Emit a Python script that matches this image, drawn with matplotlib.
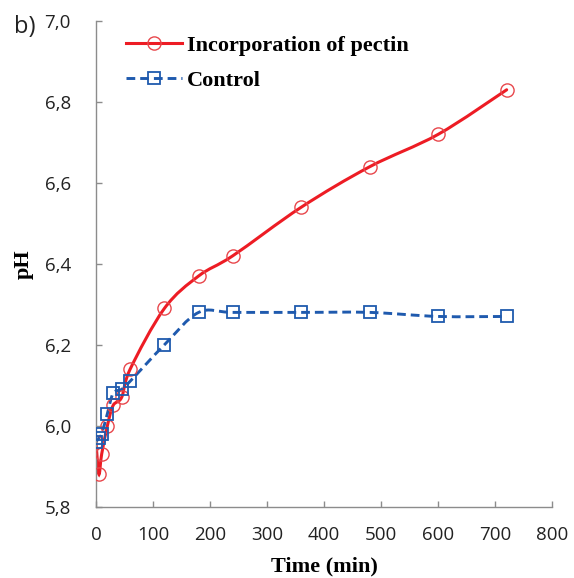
import matplotlib
matplotlib.use("Agg")
import matplotlib.pyplot as plt
from matplotlib.path import Path
from matplotlib.patches import PathPatch
from matplotlib.lines import Line2D
import numpy as np

# Data
time_pectin = [0, 5, 10, 20, 30, 45, 60, 120, 180, 240, 360, 480, 600, 720]
ph_pectin = [5.96, 5.88, 5.93, 6.00, 6.05, 6.07, 6.14, 6.29, 6.37, 6.42, 6.54, 6.64, 6.72, 6.83]
time_control = [0, 5, 10, 20, 30, 45, 60, 120, 180, 240, 360, 480, 600, 720]
ph_control = [5.96, 5.97, 5.98, 6.03, 6.08, 6.09, 6.11, 6.20, 6.28, 6.28, 6.28, 6.28, 6.27, 6.27]
label_pectin = "Incorporation of pectin"
label_control = "Control"
x_ticks = [0, 100, 200, 300, 400, 500, 600, 700, 800]
y_ticks = [5.8, 6.0, 6.2, 6.4, 6.6, 6.8, 7.0]

RED = "#ED1C24"
RED_M = "#E8474C"
BLUE = "#1F5AAE"


def smooth_path(xs, ys):
    pts = np.column_stack([xs, ys]).astype(float)
    n = len(pts)
    verts = [pts[0]]
    codes = [Path.MOVETO]
    for i in range(n - 1):
        p0 = pts[i - 1] if i > 0 else pts[i]
        p1 = pts[i]
        p2 = pts[i + 1]
        p3 = pts[i + 2] if i + 2 < n else pts[i + 1]
        c1 = p1 + (p2 - p0) / 6.0
        c2 = p2 - (p3 - p1) / 6.0
        verts += [c1, c2, p2]
        codes += [Path.CURVE4] * 3
    return Path(verts, codes)


fig = plt.figure(figsize=(5.74, 5.78), dpi=100)
ax = fig.add_axes([0.1672, 0.1234, 0.795, 0.8403])

ax.add_patch(PathPatch(smooth_path(time_pectin, ph_pectin), fill=False,
                       edgecolor=RED, lw=2.2, capstyle="round", zorder=2))
ax.add_patch(PathPatch(smooth_path(time_control, ph_control), fill=False,
                       edgecolor=BLUE, lw=2.1, linestyle=(0, (3.0, 1.7)), zorder=2))

ax.plot(time_pectin, ph_pectin, linestyle="none", marker="o", markersize=9.5,
        markerfacecolor="none", markeredgecolor=RED_M, markeredgewidth=1.0, zorder=3)
ax.plot(time_control, ph_control, linestyle="none", marker="s", markersize=9,
        markerfacecolor="none", markeredgecolor=BLUE, markeredgewidth=1.3, zorder=3)

ax.set_xlim(0, 800)
ax.set_ylim(5.8, 7.0)
ax.set_xticks(x_ticks)
ax.set_yticks(y_ticks)
ax.set_xticklabels([str(t) for t in x_ticks])
ax.set_yticklabels([f"{t:.1f}".replace(".", ",") for t in y_ticks])

for s in ["top", "right"]:
    ax.spines[s].set_visible(False)
for s in ["left", "bottom"]:
    ax.spines[s].set_color("#8C8C8C")
    ax.spines[s].set_linewidth(1.0)

ax.tick_params(direction="in", length=4, width=1.0, color="#8C8C8C",
               labelsize=13.5, labelcolor="#222222")
ax.tick_params(axis="x", pad=14)
ax.tick_params(axis="y", pad=18)
for lab in ax.get_xticklabels() + ax.get_yticklabels():
    lab.set_fontfamily("Open Sans")

ax.set_xlabel("Time (min)", fontfamily="Liberation Serif", fontweight="bold",
              fontsize=16, labelpad=9)
ax.set_ylabel("pH", fontfamily="Liberation Serif", fontweight="bold",
              fontsize=16, labelpad=8)

handles = [
    Line2D([], [], color=RED, lw=2.2, marker="o", markersize=9.5,
           markerfacecolor="none", markeredgecolor=RED_M, markeredgewidth=1.0),
    Line2D([], [], color=BLUE, lw=2.1, linestyle=(0, (3.0, 1.7)), marker="s",
           markersize=9, markerfacecolor="none", markeredgecolor=BLUE,
           markeredgewidth=1.3),
]
leg = ax.legend(handles, [label_pectin, label_control], loc="upper left",
                bbox_to_anchor=(126 / 574, 1 - 35 / 578), bbox_transform=fig.transFigure,
                frameon=False, borderpad=0, borderaxespad=0, handlelength=2.5,
                handletextpad=0.25, labelspacing=0.66,
                prop={"family": "Liberation Serif", "weight": "bold", "size": 16})

fig.text(14 / 574, 1 - 27 / 578, "b)", fontfamily="Open Sans", fontsize=17,
         va="center", ha="left", color="#222222")

fig.savefig("out.png", dpi=100)
